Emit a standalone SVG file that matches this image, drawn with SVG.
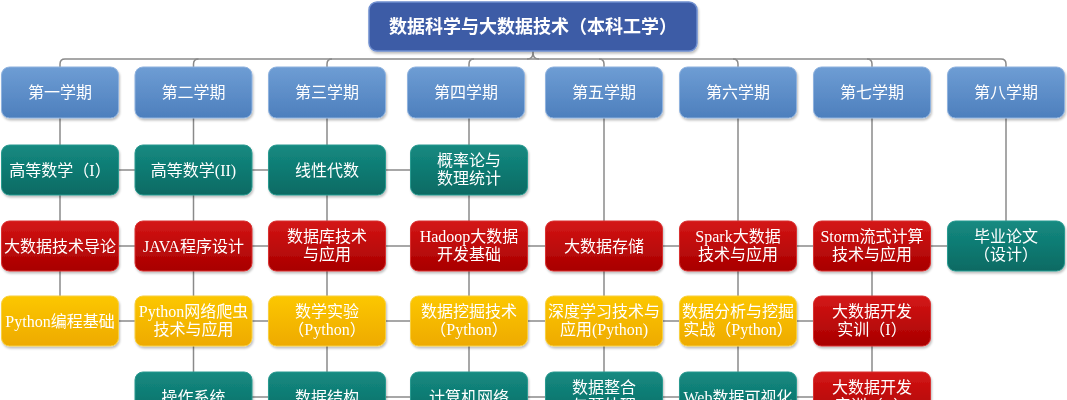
<svg xmlns="http://www.w3.org/2000/svg" width="1067" height="400" viewBox="0 0 1067 400">
<defs>
<linearGradient id="gBlue" x1="0" y1="0" x2="0" y2="1"><stop offset="0" stop-color="#6e9dd4"/><stop offset="1" stop-color="#4d7fbd"/></linearGradient>
<linearGradient id="gTeal" x1="0" y1="0" x2="0" y2="1"><stop offset="0" stop-color="#158a81"/><stop offset="1" stop-color="#086a63"/></linearGradient>
<linearGradient id="gRed" x1="0" y1="0" x2="0" y2="1"><stop offset="0" stop-color="#d41616"/><stop offset="1" stop-color="#a80000"/></linearGradient>
<linearGradient id="gYel" x1="0" y1="0" x2="0" y2="1"><stop offset="0" stop-color="#fcc700"/><stop offset="1" stop-color="#eeaa00"/></linearGradient>
<filter id="sh" x="-10%" y="-10%" width="120%" height="130%"><feDropShadow dx="1" dy="2" stdDeviation="1.2" flood-color="#000" flood-opacity="0.25"/></filter>
</defs>
<style>
.conn{fill:none;stroke:#8a8a8a;stroke-width:1.5}
.box{filter:url(#sh)}
.sem rect{fill:url(#gBlue);stroke:#8fb2de;stroke-width:1}
.teal rect{fill:url(#gTeal);stroke:#2a9a90;stroke-width:1}
.red rect{fill:url(#gRed);stroke:#d83030;stroke-width:1}
.yel rect{fill:url(#gYel);stroke:#f7cf40;stroke-width:1}
text{fill:#fff;text-anchor:middle}
.st{font-family:"Noto Sans CJK SC","Noto Sans",sans-serif;font-size:16px}
.ct{font-family:"Liberation Serif","Noto Sans CJK SC",serif;font-size:16px}
.tt{font-family:"Noto Sans CJK SC","Noto Sans",sans-serif;font-size:18px;font-weight:bold}
</style>
<g id="connectors">
<path class="conn" d="M60 67 V64 Q60 59 65 59 H1001 Q1006 59 1006 64 V67"/>
<path class="conn" d="M193.5 67 V64 Q193.5 59 198.5 59 M327 67 V64 Q327 59 332 59 M469 67 V64 Q469 59 474 59"/>
<path class="conn" d="M604 67 V64 Q604 59 599 59 M738 67 V64 Q738 59 733 59 M872 67 V64 Q872 59 867 59"/>
<path class="conn" d="M527 59 Q533 59 533 53 V51 M539 59 Q533 59 533 53"/>
<path class="conn" d="M60 118 V296 M193.5 118 V372 M327 118 V372 M469 118 V372 M604 118 V372 M738 118 V372 M872 118 V372 M1006 118 V221"/>
<path class="conn" d="M60 170 H469 M60 246 H1006 M60 321 H872 M193.5 397 H872"/>
</g>
<g id="title" class="box"><rect x="369" y="2" width="328" height="49" rx="8" fill="#3e5ca6" stroke="#6f8fd0" stroke-width="1.5"/><text class="tt" x="533" y="33">数据科学与大数据技术（本科工学）</text></g>
<g id="s1" class="box sem"><rect x="1.5" y="67" width="117" height="51" rx="8"/><text class="st" x="60" y="98">第一学期</text></g>
<g id="s2" class="box sem"><rect x="135" y="67" width="117" height="51" rx="8"/><text class="st" x="193.5" y="98">第二学期</text></g>
<g id="s3" class="box sem"><rect x="268.5" y="67" width="117" height="51" rx="8"/><text class="st" x="327" y="98">第三学期</text></g>
<g id="s4" class="box sem"><rect x="407.5" y="67" width="117" height="51" rx="8"/><text class="st" x="466" y="98">第四学期</text></g>
<g id="s5" class="box sem"><rect x="545.5" y="67" width="117" height="51" rx="8"/><text class="st" x="604" y="98">第五学期</text></g>
<g id="s6" class="box sem"><rect x="679.5" y="67" width="117" height="51" rx="8"/><text class="st" x="738" y="98">第六学期</text></g>
<g id="s7" class="box sem"><rect x="813.5" y="67" width="117" height="51" rx="8"/><text class="st" x="872" y="98">第七学期</text></g>
<g id="s8" class="box sem"><rect x="947.5" y="67" width="117" height="51" rx="8"/><text class="st" x="1006" y="98">第八学期</text></g>
<g id="c1r1" class="box teal"><rect x="1.5" y="145" width="117" height="50" rx="8"/><text class="ct" x="60" y="176">高等数学（I）</text></g>
<g id="c2r1" class="box teal"><rect x="135" y="145" width="117" height="50" rx="8"/><text class="ct" x="193.5" y="176">高等数学(II)</text></g>
<g id="c3r1" class="box teal"><rect x="268.5" y="145" width="117" height="50" rx="8"/><text class="ct" x="327" y="176">线性代数</text></g>
<g id="c4r1" class="box teal"><rect x="410.5" y="145" width="117" height="50" rx="8"/><text class="ct" x="469" y="166">概率论与</text><text class="ct" x="469" y="184">数理统计</text></g>
<g id="c1r2" class="box red"><rect x="1.5" y="221" width="117" height="50" rx="8"/><text class="ct" x="60" y="252">大数据技术导论</text></g>
<g id="c2r2" class="box red"><rect x="135" y="221" width="117" height="50" rx="8"/><text class="ct" x="193.5" y="252">JAVA程序设计</text></g>
<g id="c3r2" class="box red"><rect x="268.5" y="221" width="117" height="50" rx="8"/><text class="ct" x="327" y="242">数据库技术</text><text class="ct" x="327" y="260">与应用</text></g>
<g id="c4r2" class="box red"><rect x="410.5" y="221" width="117" height="50" rx="8"/><text class="ct" x="469" y="242">Hadoop大数据</text><text class="ct" x="469" y="260">开发基础</text></g>
<g id="c5r2" class="box red"><rect x="545.5" y="221" width="117" height="50" rx="8"/><text class="ct" x="604" y="252">大数据存储</text></g>
<g id="c6r2" class="box red"><rect x="679.5" y="221" width="117" height="50" rx="8"/><text class="ct" x="738" y="242">Spark大数据</text><text class="ct" x="738" y="260">技术与应用</text></g>
<g id="c7r2" class="box red"><rect x="813.5" y="221" width="117" height="50" rx="8"/><text class="ct" x="872" y="242">Storm流式计算</text><text class="ct" x="872" y="260">技术与应用</text></g>
<g id="c8r2" class="box teal"><rect x="947.5" y="221" width="117" height="50" rx="8"/><text class="ct" x="1006" y="242">毕业论文</text><text class="ct" x="1006" y="260">（设计）</text></g>
<g id="c1r3" class="box yel"><rect x="1.5" y="296" width="117" height="50" rx="8"/><text class="ct" x="60" y="327">Python编程基础</text></g>
<g id="c2r3" class="box yel"><rect x="135" y="296" width="117" height="50" rx="8"/><text class="ct" x="193.5" y="317">Python网络爬虫</text><text class="ct" x="193.5" y="335">技术与应用</text></g>
<g id="c3r3" class="box yel"><rect x="268.5" y="296" width="117" height="50" rx="8"/><text class="ct" x="327" y="317">数学实验</text><text class="ct" x="327" y="335">（Python）</text></g>
<g id="c4r3" class="box yel"><rect x="410.5" y="296" width="117" height="50" rx="8"/><text class="ct" x="469" y="317">数据挖掘技术</text><text class="ct" x="469" y="335">（Python）</text></g>
<g id="c5r3" class="box yel"><rect x="545.5" y="296" width="117" height="50" rx="8"/><text class="ct" x="604" y="317">深度学习技术与</text><text class="ct" x="604" y="335">应用(Python)</text></g>
<g id="c6r3" class="box yel"><rect x="679.5" y="296" width="117" height="50" rx="8"/><text class="ct" x="738" y="317">数据分析与挖掘</text><text class="ct" x="738" y="335">实战（Python）</text></g>
<g id="c7r3" class="box red"><rect x="813.5" y="296" width="117" height="50" rx="8"/><text class="ct" x="872" y="317">大数据开发</text><text class="ct" x="872" y="335">实训（I）</text></g>
<g id="c2r4" class="box teal"><rect x="135" y="372" width="117" height="50" rx="8"/><text class="ct" x="193.5" y="403">操作系统</text></g>
<g id="c3r4" class="box teal"><rect x="268.5" y="372" width="117" height="50" rx="8"/><text class="ct" x="327" y="403">数据结构</text></g>
<g id="c4r4" class="box teal"><rect x="410.5" y="372" width="117" height="50" rx="8"/><text class="ct" x="469" y="403">计算机网络</text></g>
<g id="c5r4" class="box teal"><rect x="545.5" y="372" width="117" height="50" rx="8"/><text class="ct" x="604" y="393">数据整合</text><text class="ct" x="604" y="411">与预处理</text></g>
<g id="c6r4" class="box teal"><rect x="679.5" y="372" width="117" height="50" rx="8"/><text class="ct" x="738" y="403">Web数据可视化</text></g>
<g id="c7r4" class="box red"><rect x="813.5" y="372" width="117" height="50" rx="8"/><text class="ct" x="872" y="393">大数据开发</text><text class="ct" x="872" y="411">实训（II）</text></g>
</svg>
